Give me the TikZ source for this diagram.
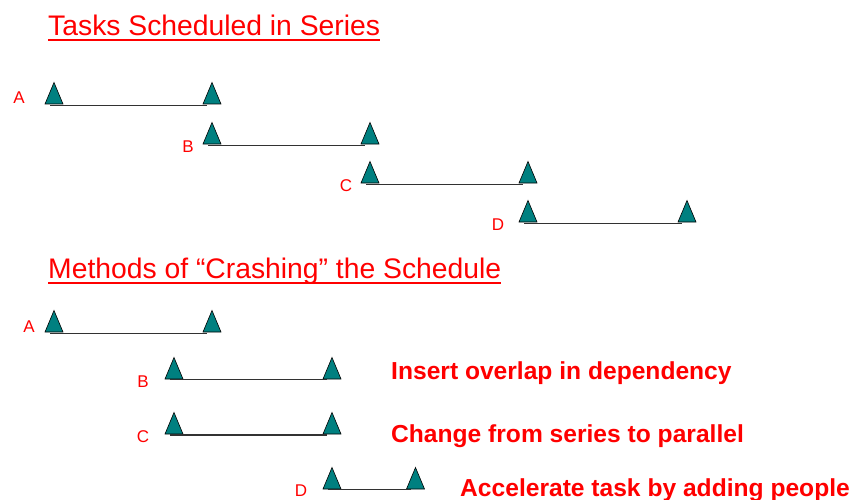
\documentclass[tikz,border=0pt]{standalone}
\usepackage{fontspec}
\setmainfont{Liberation Sans}
\usetikzlibrary{calc}
\definecolor{teal1}{RGB}{0,128,128}
\definecolor{lred}{RGB}{255,0,0}
\definecolor{lgrey}{RGB}{50,50,50}
\newcommand\mytri[3]{\coordinate (#1) at (#2,#3);
  \filldraw[tri] (#2-9,#3) -- (#2,#3-21.5) -- (#2+9,#3) -- cycle;}
\tikzset{
  tri/.style={fill=teal1, draw=black, line width=0.6},
  taskline/.style={draw=lgrey, line width=1.8},
  title/.style={anchor=base west, inner sep=0, text=lred, font=\fontsize{28.3}{32}\selectfont},
  letter/.style={anchor=base, inner sep=0, text=lred, font=\fontsize{17}{20}\selectfont},
  note/.style={anchor=base west, inner sep=0, text=lred, font=\fontsize{24.6}{28}\selectfont\bfseries},
  uline/.style={draw=lred, line width=2}
}
\begin{document}
\begin{tikzpicture}[x=1pt,y=-1pt]
\useasboundingbox (0,0) rectangle (853,500);
\node[title] (t1) at (48,36) {Tasks Scheduled in Series};
\draw[uline] ($(t1.base west)+(0,4)$) -- ($(t1.base east)+(0,4)$);
\node[title] (t2) at (48,278) {Methods of “Crashing” the Schedule};
\draw[uline] ($(t2.base west)+(0,5)$) -- ($(t2.base east)+(0,5)$);
% series
\mytri{sAl}{54}{104}\mytri{sAr}{212}{104}
\draw[taskline] ($(sAl)+(-4,1.5)$) -- ($(sAr)+(-5,1.5)$);
\node[letter] (sAlab) at (19,104) {A};
\mytri{sBl}{212}{144}\mytri{sBr}{370}{144}
\draw[taskline] ($(sBl)+(-4,1.5)$) -- ($(sBr)+(-5,1.5)$);
\node[letter] (sBlab) at (188,152) {B};
\mytri{sCl}{370}{183}\mytri{sCr}{528}{183}
\draw[taskline] ($(sCl)+(-4,1.5)$) -- ($(sCr)+(-5,1.5)$);
\node[letter] (sClab) at (346,191) {C};
\mytri{sDl}{528}{222}\mytri{sDr}{687}{222}
\draw[taskline] ($(sDl)+(-4,1.5)$) -- ($(sDr)+(-5,1.5)$);
\node[letter] (sDlab) at (498,230) {D};
% crashing
\mytri{cAl}{54}{332}\mytri{cAr}{212}{332}
\draw[taskline] ($(cAl)+(-4,1.5)$) -- ($(cAr)+(-5,1.5)$);
\node[letter] (cAlab) at (29,332) {A};
\mytri{cBl}{174}{379}\mytri{cBr}{332}{379}
\draw[taskline] ($(cBl)+(-4,0.5)$) -- ($(cBr)+(-5,0.5)$);
\node[letter] (cBlab) at (143,387) {B};
\mytri{cCl}{174}{434}\mytri{cCr}{332}{434}
\draw[taskline] ($(cCl)+(-4,1)$) -- ($(cCr)+(-5,1)$);
\node[letter] (cClab) at (143,442) {C};
\mytri{cDl}{332}{489}\mytri{cDr}{415.5}{489}
\draw[taskline] ($(cDl)+(-4,0.5)$) -- ($(cDr)+(-5,0.5)$);
\node[letter] (cDlab) at (301,496) {D};
% notes
\node[note] (n1) at (391,379) {Insert overlap in dependency};
\node[note] (n2) at (391,442) {Change from series to parallel};
\node[note] (n3) at (460,496) {Accelerate task by adding people};
\end{tikzpicture}
\end{document}
